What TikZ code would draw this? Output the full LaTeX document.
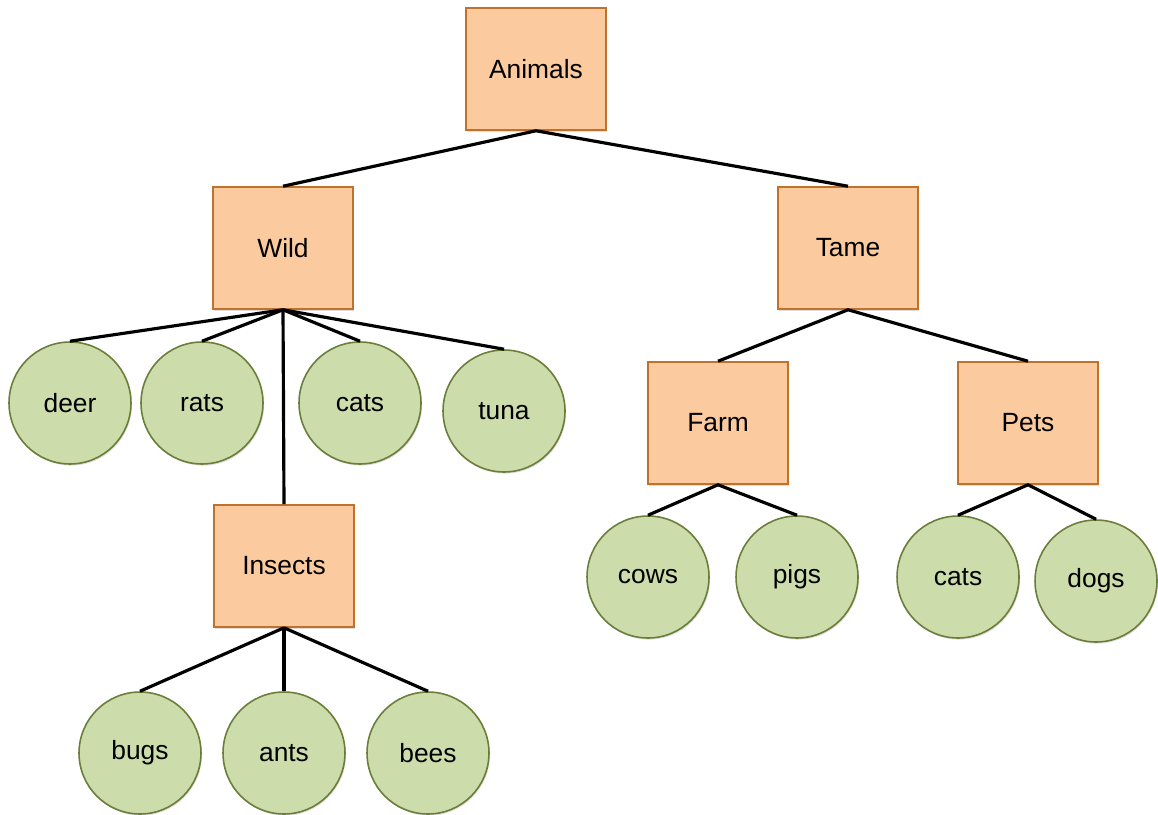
\documentclass[tikz,border=0pt]{standalone}
\usepackage{fontspec}
\setmainfont{Liberation Sans}
\usetikzlibrary{shadows}
\definecolor{boxfill}{HTML}{FBCB9F}
\definecolor{boxline}{HTML}{C0712B}
\definecolor{leaffill}{HTML}{CDDCAB}
\definecolor{leafline}{HTML}{6A7D39}
\begin{document}
\begin{tikzpicture}[x=0.02cm, y=-0.02cm,
        group/.style={draw=boxline, fill=boxfill, line width=0.9pt,
            minimum width=2.8cm, minimum height=2.44cm, inner sep=0pt,
            font=\fontsize{15}{18}\selectfont,
            drop shadow={shadow xshift=0.6pt, shadow yshift=-0.9pt, opacity=0.25}},
        leaf/.style={circle, draw=leafline, fill=leaffill, line width=0.9pt,
            minimum size=2.44cm, inner sep=0pt,
            font=\fontsize{15}{18}\selectfont,
            drop shadow={shadow xshift=0.6pt, shadow yshift=-0.9pt, opacity=0.25}},
        branch/.style={line width=1.8pt}]
    \useasboundingbox (0,0) rectangle (1158,814);
    % groups
    \node[group] (animals) at (536,69) {Animals};
    \node[group] (wild) at (283,248) {Wild};
    \node[group] (tame) at (848,248) {Tame};
    \node[group] (farm) at (718,423) {Farm};
    \node[group] (pets) at (1028,423) {Pets};
    \node[group] (insects) at (284,566) {Insects};
    % leaves
    \node[leaf] (deer) at (70,403) {deer};
    \node[leaf] (rats) at (202,403) {rats};
    \node[leaf] (wildcats) at (360,403) {cats};
    \node[leaf] (tuna) at (504,411) {tuna};
    \node[leaf] (cows) at (648,577) {cows};
    \node[leaf] (pigs) at (797,577) {pigs};
    \node[leaf] (petcats) at (958,577) {cats};
    \node[leaf] (dogs) at (1096,581) {dogs};
    \node[leaf] (bugs) at (140,753) {bugs};
    \node[leaf] (ants) at (284,753) {ants};
    \node[leaf] (bees) at (428,753) {bees};
    % branches
    \draw[branch] (wild.north) -- (animals.south) -- (tame.north);
    \draw[branch] (wild.south) -- (deer.north);
    \draw[branch] (wild.south) -- (rats.north);
    \draw[branch] (wild.south) -- (wildcats.north);
    \draw[branch] (wild.south) -- (tuna.north);
    \draw[branch] (wild.south) -- (insects.north);
    \draw[branch] (farm.north) -- (tame.south) -- (pets.north);
    \draw[branch] (cows.north) -- (farm.south) -- (pigs.north);
    \draw[branch] (petcats.north) -- (pets.south) -- (dogs.north);
    \draw[branch] (insects.south) -- (bugs.north);
    \draw[branch] (insects.south) -- (ants.north);
    \draw[branch] (insects.south) -- (bees.north);
\end{tikzpicture}
\end{document}
